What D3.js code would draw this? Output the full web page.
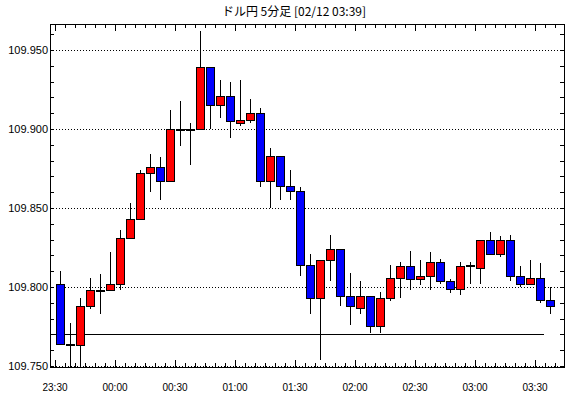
<!DOCTYPE html>
<html>
<head>
<meta charset="utf-8">
<script src="https://d3js.org/d3.v7.min.js"></script>
<style>
  body { margin: 0; background: #fff; }
  svg { display: block; }
</style>
</head>
<body>
<div id="chart"></div>
<script>
// 5-minute candles, 23:30 .. 03:35
const opens  = [109.802, 109.764, 109.763, 109.788, 109.798, 109.798, 109.802, 109.831, 109.843, 109.872,
                109.876, 109.867, 109.900, 109.900, 109.900, 109.939, 109.915, 109.921, 109.904, 109.906,
                109.910, 109.867, 109.883, 109.864, 109.861, 109.814, 109.793, 109.817, 109.824, 109.794,
                109.787, 109.794, 109.775, 109.793, 109.806, 109.813, 109.805, 109.807, 109.816, 109.804,
                109.799, 109.813, 109.812, 109.830, 109.821, 109.830, 109.807, 109.802, 109.806, 109.792];
const highs  = [109.810, 109.777, 109.793, 109.806, 109.808, 109.822, 109.836, 109.853, 109.874, 109.884,
                109.882, 109.912, 109.918, 109.904, 109.962, 109.939, 109.931, 109.930, 109.931, 109.919,
                109.913, 109.888, 109.883, 109.874, 109.863, 109.821, 109.817, 109.833, 109.824, 109.809,
                109.804, 109.794, 109.797, 109.814, 109.816, 109.823, 109.817, 109.822, 109.818, 109.805,
                109.816, 109.816, 109.830, 109.835, 109.832, 109.833, 109.813, 109.817, 109.815, 109.800];
const lows   = [109.763, 109.749, 109.750, 109.786, 109.783, 109.798, 109.798, 109.831, 109.843, 109.860,
                109.855, 109.867, 109.889, 109.877, 109.900, 109.900, 109.907, 109.894, 109.902, 109.904,
                109.863, 109.850, 109.855, 109.855, 109.807, 109.783, 109.754, 109.804, 109.788, 109.776,
                109.783, 109.771, 109.771, 109.791, 109.793, 109.798, 109.801, 109.798, 109.802, 109.796,
                109.795, 109.802, 109.802, 109.821, 109.819, 109.804, 109.800, 109.802, 109.790, 109.783];
const closes = [109.764, 109.763, 109.788, 109.798, 109.798, 109.802, 109.831, 109.843, 109.872, 109.876,
                109.867, 109.900, 109.900, 109.900, 109.939, 109.915, 109.921, 109.905, 109.906, 109.910,
                109.867, 109.883, 109.864, 109.861, 109.814, 109.793, 109.817, 109.824, 109.794, 109.788,
                109.794, 109.775, 109.793, 109.806, 109.813, 109.805, 109.807, 109.816, 109.804, 109.799,
                109.813, 109.814, 109.830, 109.821, 109.830, 109.807, 109.802, 109.806, 109.792, 109.788];
const refLevel = 109.770;
const yGrid = [109.750, 109.800, 109.850, 109.900, 109.950];
const title = "ドル円 5分足 [02/12 03:39]";

const start = new Date(2020, 1, 11, 23, 30);
const times = d3.timeMinute.every(5).range(start, d3.timeMinute.offset(start, 5 * opens.length));
const candles = times.map((t, i) => ({ t, o: opens[i], h: highs[i], l: lows[i], c: closes[i] }));

const width = 570, height = 398;
const plotLeft = 50, plotRight = 564, plotTop = 24, plotBottom = 367;
const font = "'Liberation Sans', Arial, sans-serif";

const x = d3.scaleTime()
    .domain([d3.timeSecond.offset(start, -150), d3.timeSecond.offset(start, 257 * 60 - 150)])
    .range([plotLeft, plotRight]);
const y = d3.scaleLinear()
    .domain([109.750, 109.950])
    .range([366, 50]);
const mid = t => x(d3.timeSecond.offset(t, 150));

const svg = d3.select("#chart").append("svg")
    .attr("width", width)
    .attr("height", height)
    .attr("shape-rendering", "crispEdges");

svg.append("text")
    .attr("x", 294).attr("y", 16)
    .attr("text-anchor", "middle")
    .attr("font-family", "'Noto Sans CJK JP', sans-serif")
    .attr("font-size", 12)
    .text(title);

// dotted grid
svg.append("g")
    .selectAll("line")
    .data(yGrid)
    .join("line")
    .attr("x1", plotLeft).attr("x2", plotRight)
    .attr("y1", d => Math.round(y(d)) + 0.5).attr("y2", d => Math.round(y(d)) + 0.5)
    .attr("stroke", "#000")
    .attr("stroke-dasharray", "1,2");

svg.append("g")
    .attr("font-family", font)
    .attr("font-size", 11)
    .attr("text-anchor", "end")
  .selectAll("text")
  .data(yGrid)
  .join("text")
    .attr("x", 48)
    .attr("y", d => y(d) + 4)
    .text(d => d.toFixed(3));

// y ticks every 0.01, both sides
const yTicks = d3.range(0, 22).map(i => 109.750 + i * 0.01);
const yt = svg.append("g").attr("stroke", "#000");
yTicks.forEach(v => {
  const py = Math.round(y(v)) + 0.5;
  if (py < plotTop) return;
  yt.append("line").attr("x1", plotLeft).attr("x2", plotLeft + 4).attr("y1", py).attr("y2", py);
  yt.append("line").attr("x1", plotRight - 4).attr("x2", plotRight).attr("y1", py).attr("y2", py);
});

// x ticks every 5 minutes, major every 30
const xTicks = x.ticks(d3.timeMinute.every(5));
const xt = svg.append("g").attr("stroke", "#000");
xTicks.forEach(t => {
  const px = Math.round(x(t)) + 0.5;
  const len = t.getMinutes() % 30 === 0 ? 7 : 4;
  xt.append("line").attr("x1", px).attr("x2", px).attr("y1", plotBottom).attr("y2", plotBottom - len);
  xt.append("line").attr("x1", px).attr("x2", px).attr("y1", plotTop).attr("y2", plotTop + len);
});

svg.append("g")
    .attr("font-family", font)
    .attr("font-size", 10)
    .attr("text-anchor", "middle")
  .selectAll("text")
  .data(x.ticks(d3.timeMinute.every(30)))
  .join("text")
    .attr("x", d => x(d))
    .attr("y", 391)
    .text(d3.timeFormat("%H:%M"));

// reference level
svg.append("line")
    .attr("x1", plotLeft).attr("x2", Math.round(x(times[times.length - 1])) - 1)
    .attr("y1", Math.round(y(refLevel)) + 0.5).attr("y2", Math.round(y(refLevel)) + 0.5)
    .attr("stroke", "#000");

// candles
const g = svg.append("g");
g.selectAll("line")
  .data(candles)
  .join("line")
    .attr("x1", d => Math.round(mid(d.t)) + 0.5)
    .attr("x2", d => Math.round(mid(d.t)) + 0.5)
    .attr("y1", d => Math.round(y(d.h)))
    .attr("y2", d => Math.round(y(d.l)))
    .attr("stroke", "#000");

g.selectAll("rect")
  .data(candles)
  .join("rect")
    .attr("x", d => Math.round(mid(d.t)) - 3.5)
    .attr("width", 8)
    .attr("y", d => Math.round(y(Math.max(d.o, d.c))) + 0.5)
    .attr("height", d => Math.max(1, Math.round(y(Math.min(d.o, d.c))) - Math.round(y(Math.max(d.o, d.c)))))
    .attr("fill", d => d.c > d.o ? "#ff0000" : d.c < d.o ? "#0000ff" : "#000")
    .attr("stroke", "#000");

// frame
svg.append("rect")
    .attr("x", plotLeft + 0.5).attr("y", plotTop + 0.5)
    .attr("width", plotRight - plotLeft).attr("height", plotBottom - plotTop)
    .attr("fill", "none")
    .attr("stroke", "#000");
</script>
</body>
</html>
